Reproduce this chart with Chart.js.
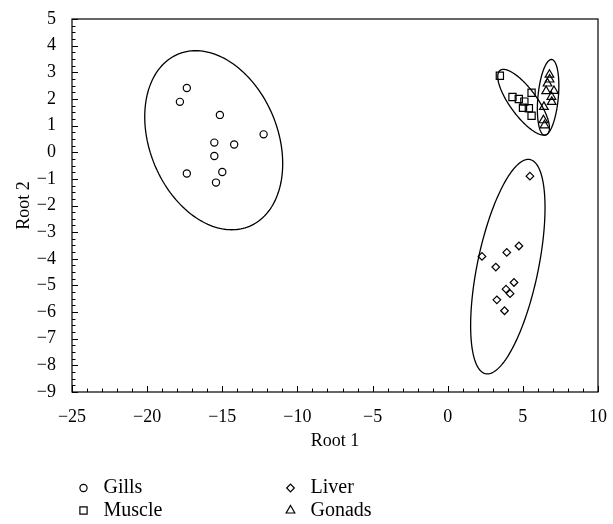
<!DOCTYPE html>
<html>
<head>
<meta charset="utf-8">
<script src="https://cdn.jsdelivr.net/npm/chart.js@4/dist/chart.umd.min.js"></script>
<style>
  html, body { margin: 0; padding: 0; background: #fff; }
  #wrap { width: 613px; height: 524px; position: relative; }
</style>
</head>
<body>
<div id="wrap"><canvas id="rootChart"></canvas></div>
<script>
// Discriminant scores
const groupNames = ['Gills', 'Muscle', 'Liver', 'Gonads'];

const gillsX = [-17.36, -17.82, -15.16, -12.25, -15.53, -14.21, -15.53, -17.36, -15.0, -15.42];
const gillsY = [2.41, 1.89, 1.40, 0.67, 0.36, 0.29, -0.14, -0.80, -0.74, -1.14];

const muscleX = [3.47, 5.58, 4.31, 4.73, 5.10, 5.01, 5.40, 5.58];
const muscleY = [2.87, 2.23, 2.07, 2.00, 1.90, 1.67, 1.65, 1.37];

const liverX = [5.47, 4.74, 3.93, 2.28, 3.20, 4.41, 3.88, 4.15, 3.27, 3.78];
const liverY = [-0.90, -3.52, -3.76, -3.91, -4.31, -4.89, -5.14, -5.31, -5.54, -5.95];

const gonadsX = [6.77, 6.78, 6.64, 6.55, 7.07, 6.90, 6.92, 6.40, 6.37, 6.44];
const gonadsY = [2.91, 2.73, 2.58, 2.29, 2.30, 2.08, 1.89, 1.70, 1.20, 1.01];

// 95% ellipses: centre, topmost point and half of the horizontal extent
const ellipseCenterX = [-15.57, 5.05, 4.0, 6.68];
const ellipseCenterY = [0.45, 1.875, -4.295, 2.06];
const ellipseTopX = [-16.77, 3.71, 5.36, 6.9];
const ellipseTopY = [3.81, 3.11, -0.27, 3.48];
const ellipseHalfWidth = [4.59, 1.72, 2.475, 0.715];

const xTickStep = 5;
const yTickStep = 1;

const markerStyles = ['circle', 'rect', 'rectRot', 'triangle'];
const markerRadius = [3.6, 5.1, 3.8, 5.0];

const FONT = '"Liberation Serif", "DejaVu Serif", serif';

function toPoints(xs, ys) {
  return xs.map((x, i) => ({ x: x, y: ys[i] }));
}

const seriesX = [gillsX, muscleX, liverX, gonadsX];
const seriesY = [gillsY, muscleY, liverY, gonadsY];

function minusSign(value) {
  return value < 0 ? '\u2212' + Math.abs(value) : String(value);
}

// ellipses, frame, inward tick marks and the two-column legend
const framePlugin = {
  id: 'frame',
  beforeDatasetsDraw(chart) {
    const { ctx, scales: { x, y } } = chart;
    ctx.save();
    ctx.strokeStyle = '#000';
    ctx.lineWidth = 1.3;
    for (let i = 0; i < ellipseCenterX.length; i++) {
      const cx = ellipseCenterX[i], cy = ellipseCenterY[i];
      const ux = ellipseTopX[i] - cx, uy = ellipseTopY[i] - cy;
      const h = Math.sqrt(Math.max(ellipseHalfWidth[i] ** 2 - ux * ux, 0));
      ctx.beginPath();
      for (let k = 0; k <= 180; k++) {
        const t = k / 180 * Math.PI * 2;
        const px = x.getPixelForValue(cx + ux * Math.cos(t) + h * Math.sin(t));
        const py = y.getPixelForValue(cy + uy * Math.cos(t));
        if (k === 0) ctx.moveTo(px, py); else ctx.lineTo(px, py);
      }
      ctx.closePath();
      ctx.stroke();
    }
    ctx.restore();
  },
  afterDraw(chart) {
    const { ctx, chartArea: a, scales: { x, y } } = chart;
    ctx.save();
    ctx.strokeStyle = '#000';
    ctx.lineWidth = 1.2;
    ctx.strokeRect(a.left, a.top, a.right - a.left, a.bottom - a.top);
    ctx.lineWidth = 1;
    ctx.beginPath();
    for (let v = x.min; v <= x.max + 1e-9; v += 1) {
      const px = Math.round(x.getPixelForValue(v)) + 0.5;
      const len = v % 5 === 0 ? 6 : 3.5;
      ctx.moveTo(px, a.bottom);
      ctx.lineTo(px, a.bottom - len);
    }
    for (let v = y.min; v <= y.max + 1e-9; v += 0.25) {
      const py = Math.round(y.getPixelForValue(v)) + 0.5;
      const len = Math.abs(v - Math.round(v)) < 1e-6 ? 6 : 3.5;
      ctx.moveTo(a.left, py);
      ctx.lineTo(a.left + len, py);
    }
    ctx.stroke();

    const cols = [a.left + 11.5, a.left + 218.5];
    const rows = [488, 510.5];
    chart.data.datasets.forEach((ds, i) => {
      const mx = cols[Math.floor(i / 2)];
      const my = rows[i % 2];
      ctx.fillStyle = 'rgba(0,0,0,0)';
      ctx.strokeStyle = '#000';
      ctx.lineWidth = ds.pointBorderWidth;
      Chart.helpers.drawPoint(ctx, {
        pointStyle: ds.pointStyle,
        radius: ds.pointRadius,
        borderWidth: ds.pointBorderWidth,
        rotation: 0
      }, mx, my);
      ctx.fillStyle = '#000';
      ctx.font = '20px ' + FONT;
      ctx.textBaseline = 'middle';
      ctx.textAlign = 'left';
      ctx.fillText(ds.label, mx + 20, my);
    });
    ctx.restore();
  }
};

const datasets = groupNames.map((name, i) => ({
  label: name,
  data: toPoints(seriesX[i], seriesY[i]),
  pointStyle: markerStyles[i],
  pointRadius: markerRadius[i],
  pointHoverRadius: markerRadius[i],
  pointBorderWidth: 1.2,
  borderColor: '#000',
  backgroundColor: 'rgba(0,0,0,0)',
  showLine: false
}));

new Chart(document.getElementById('rootChart'), {
  type: 'scatter',
  data: { datasets: datasets },
  options: {
    responsive: true,
    maintainAspectRatio: false,
    animation: false,
    devicePixelRatio: 1,
    layout: { padding: { left: 0, top: 19, right: 11, bottom: 70 } },
    plugins: {
      legend: { display: false },
      tooltip: { enabled: false }
    },
    scales: {
      x: {
        type: 'linear',
        min: -25,
        max: 10,
        grid: { display: false },
        border: { display: false },
        ticks: {
          stepSize: xTickStep,
          padding: 6,
          color: '#000',
          font: { family: FONT, size: 18 },
          callback: minusSign
        },
        title: {
          display: true,
          text: 'Root 1',
          color: '#000',
          font: { family: FONT, size: 18 },
          padding: { top: 0, bottom: 2 }
        },
        afterFit(scale) { scale.height = 62; }
      },
      y: {
        type: 'linear',
        min: -9,
        max: 5,
        grid: { display: false },
        border: { display: false },
        ticks: {
          stepSize: yTickStep,
          autoSkip: false,
          padding: 8,
          color: '#000',
          font: { family: FONT, size: 18 },
          callback: minusSign
        },
        title: {
          display: true,
          text: 'Root 2',
          color: '#000',
          font: { family: FONT, size: 18 },
          padding: { top: 13, bottom: 0 }
        },
        afterFit(scale) { scale.width = 72; }
      }
    }
  },
  plugins: [framePlugin]
});
</script>
</body>
</html>
